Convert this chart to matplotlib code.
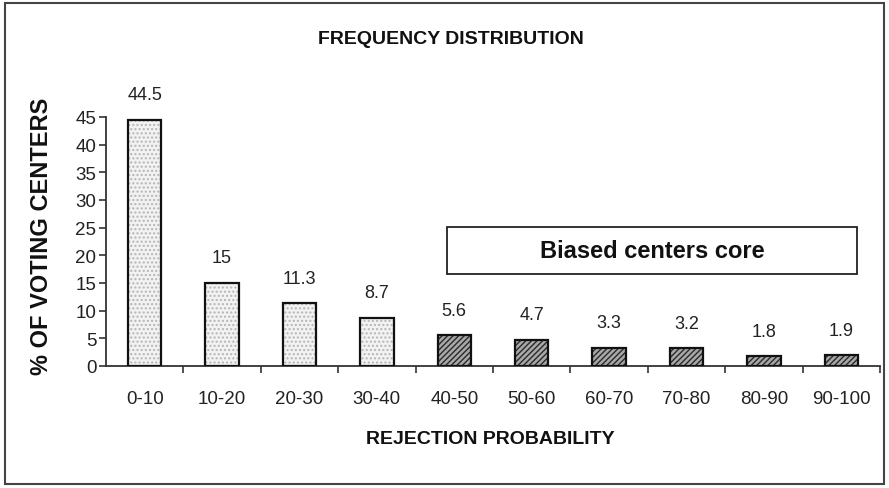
import matplotlib
matplotlib.use("Agg")
import matplotlib.pyplot as plt
from matplotlib.patches import Rectangle
from matplotlib.ticker import FixedLocator

categories = ["0-10", "10-20", "20-30", "30-40", "40-50", "50-60",
              "60-70", "70-80", "80-90", "90-100"]
values = [44.5, 15, 11.3, 8.7, 5.6, 4.7, 3.3, 3.2, 1.8, 1.9]
value_labels = ["44.5", "15", "11.3", "8.7", "5.6", "4.7", "3.3", "3.2", "1.8", "1.9"]
biased = [False, False, False, False, True, True, True, True, True, True]
y_ticks = [0, 5, 10, 15, 20, 25, 30, 35, 40, 45]

plt.rcParams['font.family'] = ['Liberation Sans', 'DejaVu Sans']

W, H = 889, 489
fig = plt.figure(figsize=(W / 100, H / 100), dpi=100)
fig.patch.set_facecolor("white")

ax = fig.add_axes([106 / W, 1 - 367 / H, (880 - 106) / W, (367 - 118) / H])

x = list(range(len(categories)))
bw = 0.43
for xi, v, b in zip(x, values, biased):
    if b:
        ax.bar(xi, v, width=bw, color="#a8a8a8", hatch="//////",
               edgecolor="#2a2a2a", linewidth=0, zorder=2)
    else:
        ax.bar(xi, v, width=bw, color="#f2f2f2", hatch="....",
               edgecolor="#b5b5b5", linewidth=0, zorder=2)
    ax.bar(xi, v, width=bw, fill=False, edgecolor="#111111", linewidth=1.6, zorder=3)

for xi, v, lab in zip(x, values, value_labels):
    ax.annotate(lab, (xi, v), xytext=(0, 18), textcoords="offset points",
                ha="center", va="center", fontsize=13, color="#222222")

ax.set_xlim(-0.5, 9.5)
ax.set_ylim(0, 45)
ax.set_xticks(x)
ax.set_xticklabels(categories, fontsize=13.5, color="#222222")
ax.xaxis.set_minor_locator(FixedLocator([i + 0.5 for i in range(10)]))
ax.tick_params(axis="x", which="major", length=0, pad=17)
ax.tick_params(axis="x", which="minor", length=5, width=1.2, color="#333333", direction="out")
ax.set_yticks(y_ticks)
ax.tick_params(axis="y", which="major", length=5, width=1.2, color="#333333",
               pad=2, labelsize=13.5, labelcolor="#222222")
ax.spines["top"].set_visible(False)
ax.spines["right"].set_visible(False)
for s in ("left", "bottom"):
    ax.spines[s].set_color("#333333")
    ax.spines[s].set_linewidth(1.3)

fig.text(451 / W, 1 - 40 / H, "FREQUENCY DISTRIBUTION", ha="center", va="center",
         fontsize=14, fontweight="bold", color="#111111")
fig.text(42 / W, 1 - 236 / H, "% OF VOTING CENTERS", ha="center", va="center",
         rotation=90, fontsize=17, fontweight="bold", color="#111111")
fig.text(490 / W, 1 - 440 / H, "REJECTION PROBABILITY", ha="center", va="center",
         fontsize=14, fontweight="bold", color="#111111")

# legend box
fig.patches.append(Rectangle((447 / W, 1 - 275 / H), (857 - 447) / W, (275 - 228) / H,
                             transform=fig.transFigure, fill=False,
                             edgecolor="#222222", linewidth=1.3))
fig.text(652 / W, 1 - 252 / H, "Biased centers core", ha="center", va="center",
         fontsize=17, fontweight="bold", color="#111111")

# outer border
fig.patches.append(Rectangle((5 / W, 4 / H), (884 - 5) / W, (485 - 4) / H,
                             transform=fig.transFigure, fill=False,
                             edgecolor="#444444", linewidth=1.5))

fig.savefig("out.png", dpi=100)
